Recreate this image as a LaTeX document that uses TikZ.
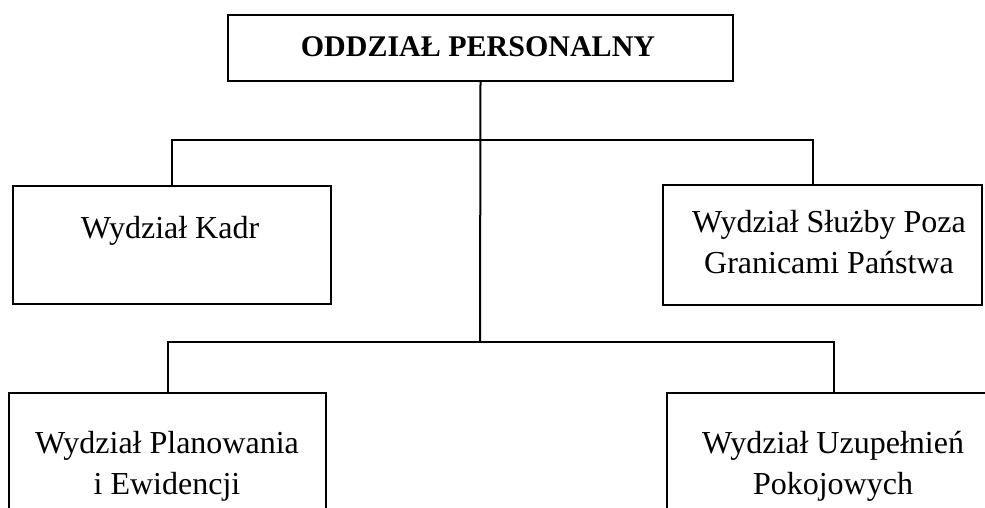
\documentclass[tikz,border=0pt]{standalone}
\usepackage{fontspec}
\setmainfont{Liberation Serif}
\begin{document}
\begin{tikzpicture}[x=1pt,y=-1pt,
  box/.style={draw=black, line width=2pt, rectangle, inner sep=0pt},
  conn/.style={draw=black, line width=2pt},
  lbl/.style={anchor=base, inner sep=0pt, font=\fontsize{32}{38}\selectfont},
  hdr/.style={anchor=base, inner sep=0pt, font=\fontsize{30}{36}\selectfont\bfseries}]
\useasboundingbox (0,0) rectangle (985,507);
\clip (0,0) rectangle (985,507);
% boxes
\node[box, minimum width=505pt, minimum height=66pt] (top) at (480.5,48) {};
\node[box, minimum width=318pt, minimum height=118pt] (kadr) at (172,245) {};
\node[box, minimum width=319pt, minimum height=120pt] (sluzba) at (822.5,245) {};
\node[box, minimum width=317pt, minimum height=147pt] (plan) at (167.5,466.5) {};
\node[box, minimum width=333pt, minimum height=147pt] (uzup) at (833.5,466.5) {};
% labels
\node[hdr] (topT) at (478,56) {ODDZIAŁ PERSONALNY};
\node[lbl] (kadrT) at (170,238) {Wydział Kadr};
\node[lbl] (sl1) at (829,232) {Wydział Służby Poza};
\node[lbl] (sl2) at (829,273) {Granicami Państwa};
\node[lbl] (pl1) at (167,453) {Wydział Planowania};
\node[lbl] (pl2) at (167,494) {i Ewidencji};
\node[lbl] (uz1) at (833,453) {Wydział Uzupełnień};
\node[lbl] (uz2) at (833,494) {Pokojowych};
% connectors
\coordinate (hubL) at (480,342);
\coordinate (uR) at (813,140);
\draw[conn] (top.south) -- (hubL);
\draw[conn] (kadr.north) |- (uR) -- (uR |- sluzba.north);
\draw[conn] (plan.north) -- (plan.north |- hubL) -- (uzup.north |- hubL) -- (uzup.north);
\end{tikzpicture}
\end{document}
